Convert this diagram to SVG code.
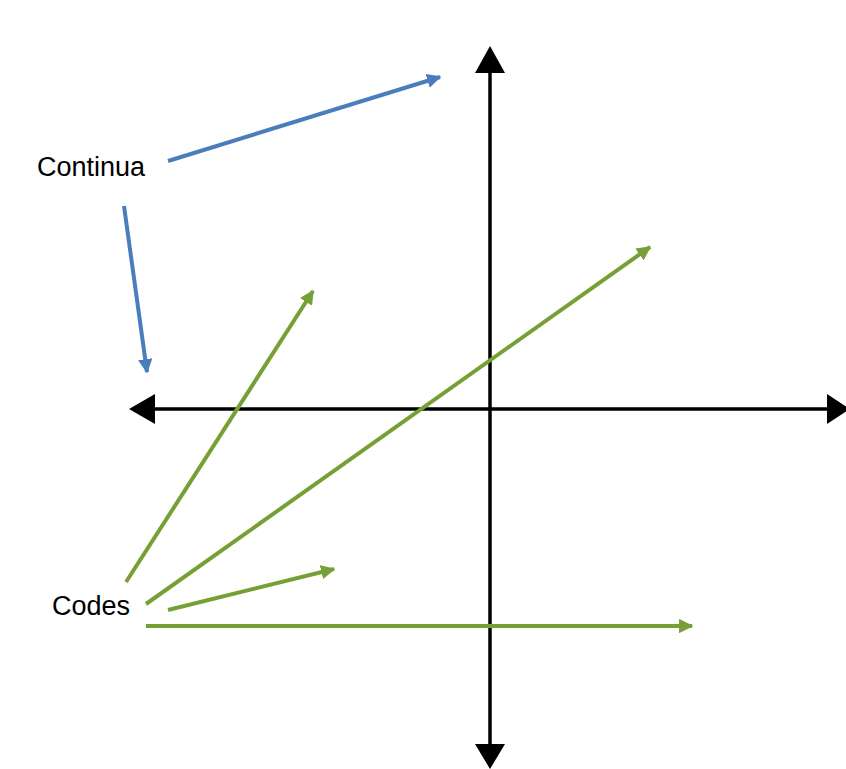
<svg xmlns="http://www.w3.org/2000/svg" width="846" height="769" viewBox="0 0 846 769">
<style>
.axis{stroke:#000;stroke-width:3.5;fill:none}
.blue{stroke:#4a7ebb;stroke-width:4;fill:none;marker-end:url(#mb)}
.green{stroke:#76a035;stroke-width:4;fill:none;marker-end:url(#mg)}
.lbl{font-family:"Liberation Sans",Arial,sans-serif;font-size:27px;fill:#000}
</style>
<defs>
<marker id="mb" viewBox="0 0 10 10" refX="9" refY="5" markerWidth="3.6" markerHeight="3.6" orient="auto" markerUnits="strokeWidth"><path d="M0,0 L10,5 L0,10 Z" fill="#4a7ebb"/></marker>
<marker id="mg" viewBox="0 0 10 10" refX="9" refY="5" markerWidth="3.6" markerHeight="3.6" orient="auto" markerUnits="strokeWidth"><path d="M0,0 L10,5 L0,10 Z" fill="#76a035"/></marker>
</defs>
<rect width="846" height="769" fill="#fff"/>
<g id="axes">
<line class="axis" x1="490" y1="70" x2="490" y2="746"/>
<path d="M490,46 L505,73 L475,73 Z" fill="#000"/>
<path d="M490,769 L505,744 L475,744 Z" fill="#000"/>
<line class="axis" x1="153" y1="409" x2="830" y2="409"/>
<path d="M129,409 L155,394 L155,424 Z" fill="#000"/>
<path d="M850,409 L827,394 L827,424 Z" fill="#000"/>
</g>
<g id="continua"><text class="lbl" x="37" y="176">Continua</text></g>
<g id="codes"><text class="lbl" x="52" y="615">Codes</text></g>
<g id="connectors">
<line class="blue" x1="168" y1="161" x2="440" y2="77"/>
<line class="blue" x1="124" y1="206" x2="147" y2="372"/>
<line class="green" x1="126" y1="582" x2="313" y2="291"/>
<line class="green" x1="146" y1="604" x2="650" y2="247"/>
<line class="green" x1="168" y1="610" x2="334" y2="569"/>
<line class="green" x1="146" y1="626" x2="692" y2="626"/>
</g>
</svg>
